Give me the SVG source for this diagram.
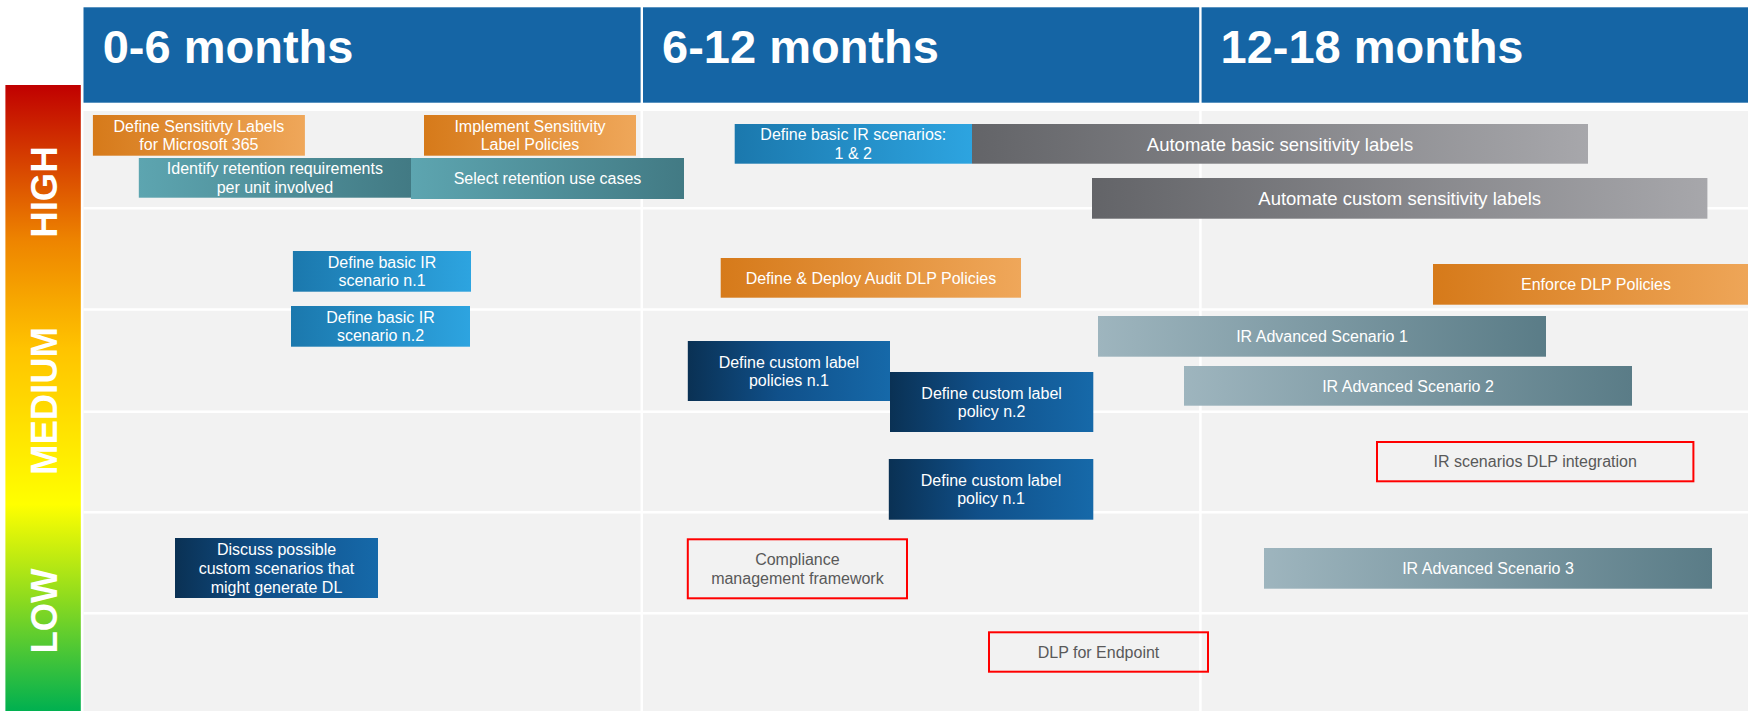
<svg xmlns="http://www.w3.org/2000/svg" width="1748" height="711" viewBox="0 0 1748 711">
<style>
.t{font-family:"Liberation Sans",Arial,sans-serif;font-size:16px;fill:#fff;text-anchor:middle}
.tl{font-size:18.5px}
.tg{fill:#595959}
.hd{font-family:"Liberation Sans",Arial,sans-serif;font-size:47px;font-weight:bold;fill:#fff}
.lv{font-family:"Liberation Sans",Arial,sans-serif;font-size:36.5px;font-weight:bold;fill:#fff;text-anchor:middle}
.hdr{fill:#1565A5}
.sep{stroke:#fff;stroke-width:2.5}
.rb{fill:none;stroke:#FF0000;stroke-width:2}
</style>
<defs>
<linearGradient id="gOr" x1="0" y1="0" x2="1" y2="0"><stop offset="0" stop-color="#D67A1A"/><stop offset="1" stop-color="#EFA75A"/></linearGradient>
<linearGradient id="gTe" x1="0" y1="0" x2="1" y2="0"><stop offset="0" stop-color="#5DA5B0"/><stop offset="1" stop-color="#427A84"/></linearGradient>
<linearGradient id="gBl" x1="0" y1="0" x2="1" y2="0"><stop offset="0" stop-color="#1B78AD"/><stop offset="1" stop-color="#2DA4E0"/></linearGradient>
<linearGradient id="gGr" x1="0" y1="0" x2="1" y2="0"><stop offset="0" stop-color="#636468"/><stop offset="1" stop-color="#A7A7AB"/></linearGradient>
<linearGradient id="gSl" x1="0" y1="0" x2="1" y2="0"><stop offset="0" stop-color="#9EB5BE"/><stop offset="1" stop-color="#5A7C87"/></linearGradient>
<linearGradient id="gNv" x1="0" y1="0" x2="1" y2="0"><stop offset="0" stop-color="#0A3154"/><stop offset="0.45" stop-color="#10508A"/><stop offset="1" stop-color="#1669A9"/></linearGradient>
<linearGradient id="gLv" x1="0" y1="0" x2="0" y2="1"><stop offset="0" stop-color="#C00000"/><stop offset="0.25" stop-color="#EE8500"/><stop offset="0.42" stop-color="#FFC300"/><stop offset="0.67" stop-color="#FFFF00"/><stop offset="0.82" stop-color="#8EDB1E"/><stop offset="1" stop-color="#00B050"/></linearGradient>
</defs>
<rect x="0" y="0" width="1748" height="711" fill="#fff"/>
<g id="grid">
<rect x="83.5" y="111" width="1665" height="600" fill="#F2F2F2"/>
<line class="sep" x1="83.5" y1="208.3" x2="1748" y2="208.3"/>
<line class="sep" x1="83.5" y1="309.5" x2="1748" y2="309.5"/>
<line class="sep" x1="83.5" y1="411.7" x2="1748" y2="411.7"/>
<line class="sep" x1="83.5" y1="512.3" x2="1748" y2="512.3"/>
<line class="sep" x1="83.5" y1="613.3" x2="1748" y2="613.3"/>
<line class="sep" x1="641.8" y1="111" x2="641.8" y2="711"/>
<line class="sep" x1="1200.4" y1="111" x2="1200.4" y2="711"/>
</g>
<g id="headers">
<rect class="hdr" x="83.5" y="7.3" width="557.1" height="95.4"/>
<rect class="hdr" x="643" y="7.3" width="556.2" height="95.4"/>
<rect class="hdr" x="1201.6" y="7.3" width="546.4" height="95.4"/>
<text class="hd" x="102.7" y="63.3">0-6 months</text>
<text class="hd" x="662" y="63.3">6-12 months</text>
<text class="hd" x="1220.5" y="63.3">12-18 months</text>
</g>
<g id="levels">
<rect x="5.4" y="85" width="75.4" height="626" fill="url(#gLv)"/>
<text class="lv" transform="translate(57.3,192) rotate(-90)">HIGH</text>
<text class="lv" transform="translate(57.3,401) rotate(-90)">MEDIUM</text>
<text class="lv" transform="translate(57.3,611) rotate(-90)">LOW</text>
</g>
<g id="n-define-sens-labels"><rect x="92.9" y="115" width="212" height="40.7" fill="url(#gOr)"/><text class="t" x="198.9" y="131.9">Define Sensitivty Labels</text><text class="t" x="198.9" y="150.4">for Microsoft 365</text></g>
<g id="n-implement-sens"><rect x="424" y="115" width="212" height="40.7" fill="url(#gOr)"/><text class="t" x="530" y="131.9">Implement Sensitivity</text><text class="t" x="530" y="150.4">Label Policies</text></g>
<g id="n-identify-retention"><rect x="138.8" y="158" width="272.2" height="39.7" fill="url(#gTe)"/><text class="t" x="274.9" y="174.3">Identify retention requirements</text><text class="t" x="274.9" y="192.8">per unit involved</text></g>
<g id="n-select-retention"><rect x="411" y="158" width="273" height="41" fill="url(#gTe)"/><text class="t" x="547.5" y="184.2">Select retention use cases</text></g>
<g id="n-basic-ir-12"><rect x="734.7" y="124" width="237.3" height="39.7" fill="url(#gBl)"/><text class="t" x="853.3" y="140.4">Define basic IR scenarios:</text><text class="t" x="853.3" y="158.9">1 &amp; 2</text></g>
<g id="n-auto-basic"><rect x="972" y="124" width="616" height="39.7" fill="url(#gGr)"/><text class="t tl" x="1280" y="150.5">Automate basic sensitivity labels</text></g>
<g id="n-auto-custom"><rect x="1092" y="178" width="615.4" height="40.7" fill="url(#gGr)"/><text class="t tl" x="1399.7" y="205">Automate custom sensitivity labels</text></g>
<g id="n-basic-ir-1"><rect x="292.9" y="251" width="178.1" height="40.7" fill="url(#gBl)"/><text class="t" x="382" y="267.8">Define basic IR</text><text class="t" x="382" y="286.3">scenario n.1</text></g>
<g id="n-basic-ir-2"><rect x="291" y="306" width="179" height="40.7" fill="url(#gBl)"/><text class="t" x="380.5" y="322.8">Define basic IR</text><text class="t" x="380.5" y="341.3">scenario n.2</text></g>
<g id="n-audit-dlp"><rect x="720.7" y="258" width="300.3" height="39.7" fill="url(#gOr)"/><text class="t" x="870.9" y="283.6">Define &amp; Deploy Audit DLP Policies</text></g>
<g id="n-enforce-dlp"><rect x="1433" y="264" width="326" height="40.7" fill="url(#gOr)"/><text class="t" x="1596" y="290">Enforce DLP Policies</text></g>
<g id="n-ir-adv-1"><rect x="1098" y="316" width="448" height="40.7" fill="url(#gSl)"/><text class="t" x="1322" y="342">IR Advanced Scenario 1</text></g>
<g id="n-ir-adv-2"><rect x="1184" y="366" width="448" height="39.7" fill="url(#gSl)"/><text class="t" x="1408" y="391.6">IR Advanced Scenario 2</text></g>
<g id="n-custom-policies-1"><rect x="687.8" y="341" width="202.2" height="60" fill="url(#gNv)"/><text class="t" x="788.9" y="367.5">Define custom label</text><text class="t" x="788.9" y="386">policies n.1</text></g>
<g id="n-custom-policy-2"><rect x="890" y="372" width="203.3" height="60" fill="url(#gNv)"/><text class="t" x="991.6" y="398.5">Define custom label</text><text class="t" x="991.6" y="417">policy n.2</text></g>
<g id="n-custom-policy-1"><rect x="888.8" y="459" width="204.5" height="60.7" fill="url(#gNv)"/><text class="t" x="991" y="485.9">Define custom label</text><text class="t" x="991" y="504.4">policy n.1</text></g>
<g id="n-ir-dlp-integration"><rect class="rb" x="1377" y="442" width="316.4" height="39.3"/><text class="t tg" x="1535.2" y="467.4">IR scenarios DLP integration</text></g>
<g id="n-discuss-scenarios"><rect x="175" y="538" width="203" height="60" fill="url(#gNv)"/><text class="t" x="276.5" y="555">Discuss possible</text><text class="t" x="276.5" y="574">custom scenarios that</text><text class="t" x="276.5" y="593">might generate DL</text></g>
<g id="n-compliance"><rect class="rb" x="687.8" y="539.3" width="219.2" height="59"/><text class="t tg" x="797.4" y="565.3">Compliance</text><text class="t tg" x="797.4" y="583.8">management framework</text></g>
<g id="n-ir-adv-3"><rect x="1264" y="548" width="448" height="40.7" fill="url(#gSl)"/><text class="t" x="1488" y="574">IR Advanced Scenario 3</text></g>
<g id="n-dlp-endpoint"><rect class="rb" x="989" y="632.3" width="219" height="39.4"/><text class="t tg" x="1098.5" y="657.7">DLP for Endpoint</text></g>
<g id="connectors"></g>
</svg>
